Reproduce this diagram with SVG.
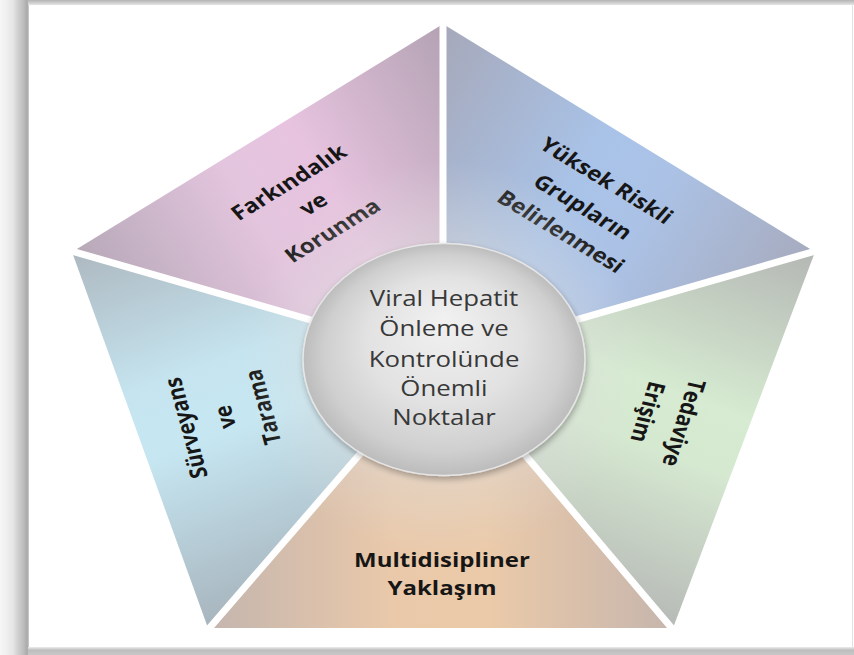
<svg xmlns="http://www.w3.org/2000/svg" width="854" height="655" viewBox="0 0 854 655">
<defs>
<style>
.lbl{font-family:"Open Sans","Liberation Sans",sans-serif;font-weight:700;font-size:20px;fill:#161616;text-anchor:middle}
.ctr{font-family:"Open Sans","Liberation Sans",sans-serif;font-weight:400;font-size:21.5px;fill:#383838;text-anchor:middle}
.div{stroke:#ffffff;stroke-width:7;fill:none}
</style>
<linearGradient id="gLeft" x1="0" y1="0" x2="1" y2="0">
<stop offset="0" stop-color="#f7f7f7"/>
<stop offset="0.45" stop-color="#e6e6e6"/>
<stop offset="0.62" stop-color="#d0d0d0"/>
<stop offset="0.82" stop-color="#bcbcbc"/>
<stop offset="0.94" stop-color="#a9a9a9"/>
<stop offset="1" stop-color="#cfcfcf"/>
</linearGradient>
<linearGradient id="gTop" x1="0" y1="0" x2="0" y2="1">
<stop offset="0" stop-color="#b4b4b4"/>
<stop offset="1" stop-color="#e4e4e4"/>
</linearGradient>
<linearGradient id="gBot" x1="0" y1="0" x2="0" y2="1">
<stop offset="0" stop-color="#ececec"/>
<stop offset="0.4" stop-color="#bdbdbd"/>
<stop offset="1" stop-color="#c8c8c8"/>
</linearGradient>
<linearGradient id="gPink" gradientUnits="userSpaceOnUse" x1="443" y1="24" x2="72" y2="252">
<stop offset="0" stop-color="#b3a2b3"/>
<stop offset="0.42" stop-color="#e7c3df"/>
<stop offset="0.6" stop-color="#e3c5de"/>
<stop offset="1" stop-color="#b6a8b7"/>
</linearGradient>
<linearGradient id="gBlue" gradientUnits="userSpaceOnUse" x1="443" y1="24" x2="815" y2="252">
<stop offset="0" stop-color="#a6a8b9"/>
<stop offset="0.45" stop-color="#a9c3e8"/>
<stop offset="0.62" stop-color="#abc2e6"/>
<stop offset="1" stop-color="#a7abbe"/>
</linearGradient>
<linearGradient id="gGreen" gradientUnits="userSpaceOnUse" x1="815" y1="252" x2="673" y2="628">
<stop offset="0" stop-color="#b4b7b4"/>
<stop offset="0.45" stop-color="#d6ebd1"/>
<stop offset="0.6" stop-color="#d5e8d0"/>
<stop offset="1" stop-color="#b7bab7"/>
</linearGradient>
<linearGradient id="gPeach" gradientUnits="userSpaceOnUse" x1="673" y1="628" x2="208" y2="628">
<stop offset="0" stop-color="#c6b5ad"/>
<stop offset="0.4" stop-color="#ebcaa9"/>
<stop offset="0.6" stop-color="#eac9aa"/>
<stop offset="1" stop-color="#c4b5ae"/>
</linearGradient>
<linearGradient id="gCyan" gradientUnits="userSpaceOnUse" x1="208" y1="628" x2="72" y2="252">
<stop offset="0" stop-color="#a7b4bd"/>
<stop offset="0.45" stop-color="#c6e7f2"/>
<stop offset="0.62" stop-color="#c5e4ef"/>
<stop offset="1" stop-color="#adb8c0"/>
</linearGradient>
<radialGradient id="gHaze" gradientUnits="userSpaceOnUse" cx="443" cy="358" r="330">
<stop offset="0.3" stop-color="#dcdcdc" stop-opacity="0.55"/>
<stop offset="0.6" stop-color="#dcdcdc" stop-opacity="0"/>
</radialGradient>
<radialGradient id="gCircle" cx="0.5" cy="0.5" r="0.5" fx="0.5" fy="0.32">
<stop offset="0" stop-color="#f1f1f1"/>
<stop offset="0.55" stop-color="#e2e2e2"/>
<stop offset="0.85" stop-color="#cfcfcf"/>
<stop offset="1" stop-color="#bcbcbc"/>
</radialGradient>
<filter id="shadow" x="-20%" y="-20%" width="140%" height="140%">
<feGaussianBlur in="SourceAlpha" stdDeviation="3"/>
<feOffset dx="1" dy="3" result="b"/>
<feComponentTransfer><feFuncA type="linear" slope="0.3"/></feComponentTransfer>
<feMerge><feMergeNode/><feMergeNode in="SourceGraphic"/></feMerge>
</filter>
</defs>

<g id="frame">
<rect x="0" y="0" width="854" height="655" fill="#ffffff"/>
<rect x="0" y="0" width="29" height="655" fill="url(#gLeft)"/>
<rect x="28" y="0" width="826" height="5" fill="url(#gTop)"/>
<rect x="28" y="647" width="826" height="8" fill="url(#gBot)"/>
<line x1="852.5" y1="5" x2="852.5" y2="647" stroke="#e2e2e2" stroke-width="1"/>
</g>

<g id="seg-farkindalik">
<polygon points="443,24 72,252 443,358" fill="url(#gPink)"/>
<text class="lbl" transform="translate(288.7,182.3) scale(1.2,1) rotate(-36)" y="7">Farkındalık</text>
<text class="lbl" transform="translate(313.2,204) scale(1.2,1) rotate(-36)" y="7">ve</text>
<text class="lbl" transform="translate(332.5,230.5) scale(1.2,1) rotate(-36)" y="7">Korunma</text>
</g>

<g id="seg-yuksek-riskli">
<polygon points="443,24 815,252 443,358" fill="url(#gBlue)"/>
<text class="lbl" transform="translate(606.5,180.5) scale(1.2,1) rotate(36)" y="7">Yüksek Riskli</text>
<text class="lbl" transform="translate(583,207) scale(1.2,1) rotate(36)" y="7">Grupların</text>
<text class="lbl" transform="translate(561,231.5) scale(1.2,1) rotate(36)" y="7">Belirlenmesi</text>
</g>

<g id="seg-tedaviye">
<polygon points="815,252 673,628 443,358" fill="url(#gGreen)"/>
<text class="lbl" transform="translate(684,423) scale(1.2,1) rotate(105)" y="7">Tedaviye</text>
<text class="lbl" transform="translate(648,412) scale(1.2,1) rotate(105)" y="7">Erişim</text>
</g>

<g id="seg-multidisipliner">
<polygon points="673,628 208,628 443,358" fill="url(#gPeach)"/>
<text class="lbl" transform="translate(442,560) scale(1.2,1)" y="7">Multidisipliner</text>
<text class="lbl" transform="translate(442,588) scale(1.2,1)" y="7">Yaklaşım</text>
</g>

<g id="seg-surveyans">
<polygon points="208,628 72,252 443,358" fill="url(#gCyan)"/>
<text class="lbl" transform="translate(186,428) scale(1.2,1) rotate(-103)" y="7">Sürveyans</text>
<text class="lbl" transform="translate(225,417) scale(1.2,1) rotate(-103)" y="7">ve</text>
<text class="lbl" transform="translate(263,407) scale(1.2,1) rotate(-103)" y="7">Tarama</text>
</g>

<g id="haze">
<polygon points="443,24 815,252 673,628 208,628 72,252" fill="url(#gHaze)"/>
</g>

<g id="connectors">
<line class="div" x1="443" y1="358" x2="443" y2="20"/>
<line class="div" x1="443" y1="358" x2="68" y2="250"/>
<line class="div" x1="443" y1="358" x2="819" y2="250"/>
<line class="div" x1="443" y1="358" x2="206" y2="632"/>
<line class="div" x1="443" y1="358" x2="675" y2="632"/>
</g>

<g id="center">
<ellipse cx="444" cy="359.5" rx="141" ry="116" fill="url(#gCircle)" stroke="#e6e6e6" stroke-width="1.5" filter="url(#shadow)"/>
<g transform="translate(444,0) scale(1.2,1)">
<text class="ctr" x="0" y="306">Viral Hepatit</text>
<text class="ctr" x="0" y="336">Önleme ve</text>
<text class="ctr" x="0" y="367">Kontrolünde</text>
<text class="ctr" x="0" y="396">Önemli</text>
<text class="ctr" x="0" y="425">Noktalar</text>
</g>
</g>
</svg>
